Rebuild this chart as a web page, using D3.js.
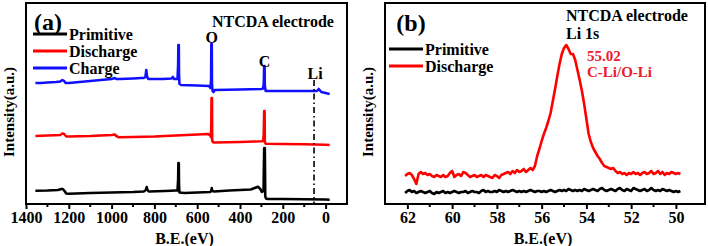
<!DOCTYPE html>
<html>
<head>
<meta charset="utf-8">
<script src="https://cdn.jsdelivr.net/npm/d3@7"></script>
<style>
  body { margin: 0; background: #fff; }
  svg text { font-family: "Liberation Serif", "Times New Roman", serif; font-weight: bold; fill: #000; }
</style>
</head>
<body>
<div id="chart"></div>
<script>
// ---- panel (a): survey spectra, [binding energy eV, intensity a.u.]
const primitive_a = [[1356,13.3],[1300,13.5],[1250,14],[1235,15],[1228,15],[1220,13],[1212,10.5],[1200,10.3],[1100,11],[1000,11.5],[900,12],[850,12.5],[840,14],[836,17],[832,14],[826,12.5],[750,13],[700,13.5],[692,13.5],[689,25],[688,41],[686,41],[685,20],[683,11.5],[660,11],[600,11.5],[540,12],[534,13],[532,16],[530,13],[520,12.5],[450,13.5],[350,14.5],[316,17.3],[305,15],[298,12],[290,13],[287,56],[284,56],[282,8],[279,5.5],[270,5],[200,5],[100,4.8],[0,4.5],[-19,4.3]];
const discharge_a = [[1356,68],[1300,68.5],[1240,69],[1230,70.5],[1222,70],[1212,67.5],[1200,67.5],[1100,68],[1000,69],[985,69.5],[978,68],[966,66.7],[900,67],[800,67.5],[700,68.5],[600,69.5],[550,70],[540,69],[536,67],[534,80],[533,106],[531,106],[530,64],[527,62],[520,61.5],[400,62],[300,62.7],[292,63],[289,70],[287,93],[285,93],[284,62],[280,60.3],[200,60],[100,59.7],[0,59.3],[-19,59]];
const charge_a = [[1356,121],[1330,121],[1300,121.5],[1260,122],[1240,122.5],[1230,124],[1222,123],[1215,121],[1200,121],[1150,122],[1100,123],[1050,124],[1000,125],[985,126],[978,125],[960,125],[900,125.5],[860,126],[850,126],[842,127],[838,134],[834,127],[828,125],[760,125],[720,125.5],[714,127],[708,125],[700,125],[692,125],[689,140],[688,159],[686,159],[685,130],[683,120],[675,119],[600,118.5],[545,118],[538,116],[535,125],[534,160],[532,160],[531,120],[528,113],[524,112],[518,114],[400,114.5],[300,115],[292,115.5],[289,120],[287,138],[285,138],[284,118],[280,113],[200,113],[100,113],[40,113],[32,115],[28,114],[20,112],[0,111],[-19,110]];

// ---- panel (b): Li 1s region
const be_b = [62.1,62.0,61.9,61.8,61.7,61.6,61.5,61.4,61.3,61.2,61.1,61.0,60.9,60.8,60.7,60.6,60.5,60.4,60.3,60.2,
  60.1,60.0,59.9,59.8,59.7,59.6,59.5,59.4,59.3,59.2,59.1,59.0,58.9,58.8,58.7,58.6,58.5,58.4,58.3,58.2,
  58.1,58.0,57.9,57.8,57.7,57.6,57.5,57.4,57.3,57.2,57.1,57.0,56.9,56.8,56.7,56.6,56.5,56.4,56.3,56.2,
  56.1,56.0,55.9,55.8,55.7,55.6,55.5,55.4,55.3,55.2,55.1,55.0,54.9,54.8,54.7,54.6,54.5,54.4,54.3,54.2,
  54.1,54.0,53.9,53.8,53.7,53.6,53.5,53.4,53.3,53.2,53.1,53.0,52.9,52.8,52.7,52.6,52.5,52.4,52.3,52.2,
  52.1,52.0,51.9,51.8,51.7,51.6,51.5,51.4,51.3,51.2,51.1,51.0,50.9,50.8,50.7,50.6,50.5,50.4,50.3,50.2,
  50.1,50.0,49.9,49.8];
const primitive_b = [11,13,14,12,13,11,12,13,12,11,12,13,11,10,12,11,12,13,11,12,11,12,13,12,11,12,12,13,11,12,13,12,
  12,11,13,14,12,13,12,12,13,12,14,13,12,13,12,13,14,13,12,13,12,13,12,13,14,13,12,13,13,12,
  13,12,13,14,13,12,13,14,13,14,13,15,14,13,14,13,14,13,15,14,13,14,15,14,13,15,16,14,13,14,
  15,14,13,15,16,14,13,15,14,13,16,15,14,13,14,15,13,14,16,14,13,14,13,15,14,13,14,13,12,13,12,13];
const discharge_b = [28,30,31,29,25,20,30,32,30,31,
  29,30,28,27,29,28,27,29,27,28,
  31,33,27,29,30,28,32,31,29,27,
  28,29,27,28,29,27,29,28,27,26,
  29,28,26,29,30,31,32,30,33,31,
  34,32,33,35,32,34,36,34,38,48,
  55,63,70,76,83,91,103,115,128,140,
  150,156,159,155,150,150,144,134,124,113,
  100,85,70,62,56,52,48,45,41,38,
  37,36,35,36,33,31,32,30,31,29,
  31,30,32,30,31,29,31,32,30,31,
  33,30,31,33,30,32,29,31,30,32,
  31,30,31,30];

const ticks_a = [1400, 1200, 1000, 800, 600, 400, 200, 0];
const minor_a = [1300, 1100, 900, 700, 500, 300, 100];
const ticks_b = [62, 60, 58, 56, 54, 52, 50];
const minor_b = [61, 59, 57, 55, 53, 51];

const RED = "#ff0000", BLUE = "#1010ff", BLACK = "#000000";

const svg = d3.select("#chart").append("svg")
  .attr("width", 708).attr("height", 246);

const plotTop = 3, plotBottom = 204;
const y = d3.scaleLinear().domain([0, 201]).range([plotBottom, plotTop]);

function panel(x, opts) {
  const g = svg.append("g");
  const [x0, x1] = x.range();

  // axis with major/minor ticks
  const ax = g.append("g").attr("transform", `translate(0,${plotBottom})`);
  ax.call(d3.axisBottom(x).tickValues(opts.ticks).tickSize(5).tickPadding(3).tickFormat(d3.format("d")))
    .call(s => s.select(".domain").remove())
    .call(s => s.selectAll("line").attr("stroke-width", 2))
    .call(s => s.selectAll("text").style("font-size", "16px").attr("fill", "#000"));
  ax.selectAll(".minor").data(opts.minor).join("line")
    .attr("x1", d => x(d)).attr("x2", d => x(d)).attr("y1", 0).attr("y2", 3)
    .attr("stroke", "#000").attr("stroke-width", 2);

  const line = d3.line().x(d => x(d[0])).y(d => y(d[1]));
  opts.series.forEach(s => {
    g.append("path").datum(s.data).attr("fill", "none")
      .attr("stroke", s.color).attr("stroke-width", 2.6)
      .attr("stroke-linejoin", "round").attr("d", line);
  });

  // frame
  g.append("rect").attr("x", x0).attr("y", plotTop).attr("width", x1 - x0).attr("height", plotBottom - plotTop)
    .attr("fill", "none").attr("stroke", "#000").attr("stroke-width", 2);

  // axis titles
  g.append("text").attr("x", (x0 + x1) / 2 - 2).attr("y", 238.5).attr("text-anchor", "middle")
    .attr("dominant-baseline", "central").style("font-size", "16px").text("B.E.(eV)");
  g.append("text").attr("transform", `translate(${opts.ylabX},112) rotate(-90)`)
    .attr("text-anchor", "middle").attr("dominant-baseline", "central")
    .style("font-size", "15px").text("Intensity(a.u.)");

  // legend
  opts.legend.forEach((l, i) => {
    const ly = opts.legY + i * opts.legStep;
    g.append("line").attr("x1", opts.legX).attr("x2", opts.legX + 34).attr("y1", ly).attr("y2", ly)
      .attr("stroke", l.color).attr("stroke-width", 3);
    g.append("text").attr("x", opts.legX + 36).attr("y", ly).attr("dominant-baseline", "central")
      .style("font-size", "16px").text(l.name);
  });
  return g;
}

// ---- (a)
const xa = d3.scaleLinear().domain([1400, -100]).range([26, 347]);
const ga = panel(xa, {
  ticks: ticks_a, minor: minor_a, ylabX: 9,
  series: [
    { data: primitive_a, color: BLACK },
    { data: discharge_a, color: RED },
    { data: charge_a, color: BLUE }
  ],
  legend: [{ name: "Primitive", color: BLACK }, { name: "Discharge", color: RED }, { name: "Charge", color: BLUE }],
  legX: 33, legY: 34, legStep: 17
});
ga.append("line").attr("x1", xa(54)).attr("x2", xa(54)).attr("y1", 80).attr("y2", plotBottom)
  .attr("stroke", "#000").attr("stroke-width", 1.6).attr("stroke-dasharray", "6,3,1.5,3");
ga.append("text").attr("x", 48).attr("y", 22).attr("text-anchor", "middle").attr("dominant-baseline", "central")
  .style("font-size", "24px").text("(a)");
ga.append("text").attr("x", 212).attr("y", 21).attr("dominant-baseline", "central")
  .style("font-size", "16px").text("NTCDA electrode");
[["O", 532, 37], ["C", 285, 61], ["Li", 54, 73]].forEach(([t, e, ty]) => {
  ga.append("text").attr("x", xa(e) + (t === "Li" ? 1 : 0)).attr("y", ty).attr("text-anchor", "middle")
    .attr("dominant-baseline", "central").style("font-size", "16px").text(t);
});

// ---- (b)
const xb = d3.scaleLinear().domain([63, 48.7]).range([385, 705]);
const gb = panel(xb, {
  ticks: ticks_b, minor: minor_b, ylabX: 368,
  series: [
    { data: be_b.map((e, i) => [e, primitive_b[i]]), color: BLACK },
    { data: be_b.map((e, i) => [e, discharge_b[i]]), color: RED }
  ],
  legend: [{ name: "Primitive", color: BLACK }, { name: "Discharge", color: RED }],
  legX: 389, legY: 49, legStep: 17
});
gb.append("text").attr("x", 411).attr("y", 23).attr("text-anchor", "middle").attr("dominant-baseline", "central")
  .style("font-size", "24px").text("(b)");
gb.append("text").attr("x", 566).attr("y", 15).attr("dominant-baseline", "central")
  .style("font-size", "16px").text("NTCDA electrode");
gb.append("text").attr("x", 566).attr("y", 33).attr("dominant-baseline", "central")
  .style("font-size", "16px").text("Li 1s");
gb.append("text").attr("x", 587).attr("y", 56).attr("dominant-baseline", "central")
  .style("font-size", "15px").style("fill", "#e8202e").text("55.02");
gb.append("text").attr("x", 587).attr("y", 72).attr("dominant-baseline", "central")
  .style("font-size", "15px").style("fill", "#e8202e").text("C-Li/O-Li");
</script>
</body>
</html>
